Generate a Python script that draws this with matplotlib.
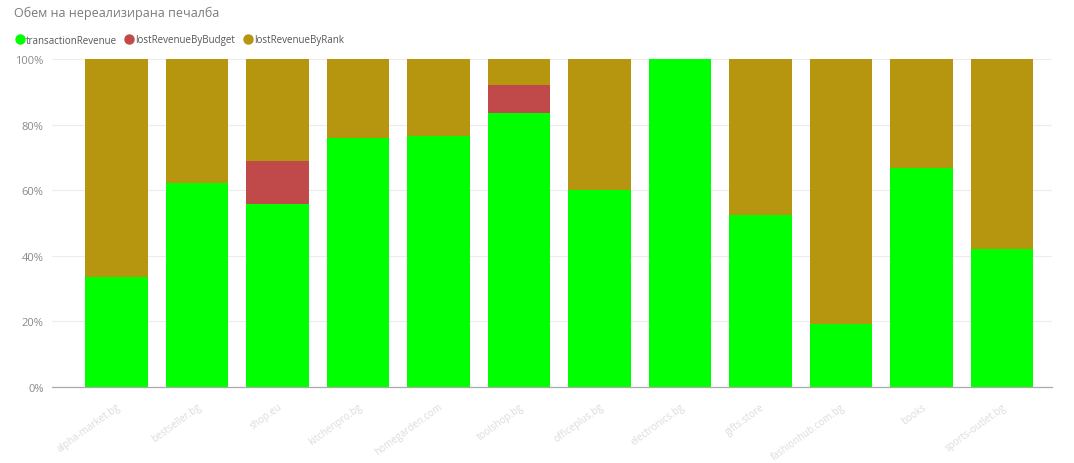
import matplotlib.pyplot as plt
import numpy as np
from matplotlib.lines import Line2D
from matplotlib.ticker import PercentFormatter

# Данни (в проценти)
categories = ["alpha-market.bg", "bestseller.bg", "shop.eu", "kitchenpro.bg",
              "homegarden.com", "toolshop.bg", "officeplus.bg", "electronics.bg",
              "gifts.store", "fashionhub.com.bg", "books", "sports-outlet.bg"]
transactionRevenue = [33.5, 62.2, 55.8, 75.9, 76.5, 83.5, 60.1, 100.0, 52.4, 19.2, 66.8, 42.1]
lostRevenueByBudget = [0, 0, 13.1, 0, 0, 8.6, 0, 0, 0, 0, 0, 0]
lostRevenueByRank = [100 - t - b for t, b in zip(transactionRevenue, lostRevenueByBudget)]

colors = {"transactionRevenue": "#00FF00",
          "lostRevenueByBudget": "#C04A4A",
          "lostRevenueByRank": "#B5960E"}

plt.rcParams['font.family'] = ['Open Sans', 'DejaVu Sans']

fig = plt.figure(figsize=(10.74, 4.64), dpi=100)
ax = fig.add_axes([52 / 1074, 76 / 464, 1000 / 1074, 328 / 464])

x = np.arange(len(categories))
w = 0.78
ax.bar(x, transactionRevenue, w, color=colors["transactionRevenue"], zorder=2)
ax.bar(x, lostRevenueByBudget, w, bottom=transactionRevenue,
       color=colors["lostRevenueByBudget"], zorder=2)
bottom2 = [t + b for t, b in zip(transactionRevenue, lostRevenueByBudget)]
ax.bar(x, lostRevenueByRank, w, bottom=bottom2,
       color=colors["lostRevenueByRank"], zorder=2)

ax.set_xlim(-0.80, 11.62)
ax.set_ylim(0, 100)
ax.set_yticks([0, 20, 40, 60, 80, 100])
ax.yaxis.set_major_formatter(PercentFormatter(decimals=0))
ax.tick_params(axis='y', length=0, labelsize=8, labelcolor='#8a8a8a', pad=6)
ax.grid(axis='y', color='#ececec', linewidth=0.8, zorder=0)

ax.set_xticks(x)
ax.set_xticklabels(categories, rotation=36, ha='right', rotation_mode='anchor',
                   fontsize=7, color='#dcdcdc')
ax.tick_params(axis='x', length=0, pad=10)

for s in ['top', 'right', 'left']:
    ax.spines[s].set_visible(False)
ax.spines['bottom'].set_color('#aaaaaa')
ax.spines['bottom'].set_linewidth(0.9)

fig.text(14 / 1074, 1 - 13 / 464, "Обем на нереализирана печалба",
         fontsize=9, color='#7a7a7a', va='center', ha='left')

handles = [Line2D([], [], marker='o', linestyle='', markersize=6.5,
                  markerfacecolor=c, markeredgecolor=c) for c in colors.values()]
fig.legend(handles, list(colors.keys()), loc='center left',
           bbox_to_anchor=(15 / 1074, 1 - 41 / 464), ncol=3, frameon=False,
           fontsize=7, labelcolor='#555555', handletextpad=0.1,
           columnspacing=0.8, handlelength=1.0, borderpad=0, borderaxespad=0)

fig.savefig("out.png", dpi=100, facecolor='white')
